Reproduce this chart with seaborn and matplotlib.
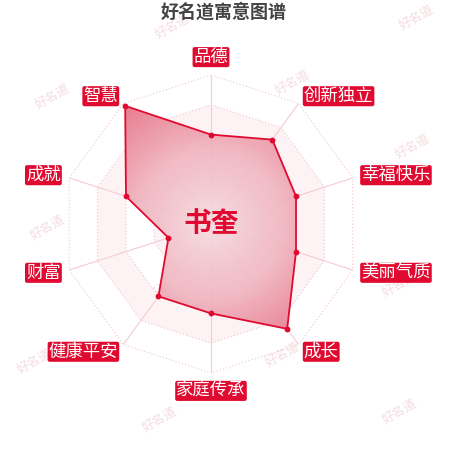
import numpy as np
import matplotlib
matplotlib.use('Agg')
import matplotlib.pyplot as plt
import seaborn as sns
from matplotlib.colors import LinearSegmentedColormap
from matplotlib.image import AxesImage

# Data
categories = ['品德', '创新独立', '幸福快乐', '美丽气质', '成长',
              '家庭传承', '健康平安', '财富', '成就', '智慧']
values = [60, 70, 60, 60, 87, 60, 60, 30, 60, 98]
name = '书奎'
title = '好名道寓意图谱'
watermark = '好名道'
max_value = 100
levels = [20, 40, 60, 80, 100]

red = '#e00a30'

sns.set_style('white')
plt.rcParams['font.family'] = ['Noto Sans CJK SC', 'DejaVu Sans']

fig = plt.figure(figsize=(4.5, 4.5), dpi=100)

# watermarks in the background (pixel positions from top-left)
wm_pos = [(173, 27), (417, 18), (53, 97), (293, 83), (413, 147), (170, 155),
          (48, 228), (300, 210), (155, 293), (400, 285), (35, 362),
          (283, 355), (160, 420), (400, 412)]
for px, py in wm_pos:
    fig.text(px / 450, 1 - py / 450, watermark, fontsize=9, color='#f5dce0',
             rotation=30, ha='center', va='center', style='italic', zorder=-1)

cx, cy, R = 211 / 450, 1 - 224 / 450, 149 / 450
ax = fig.add_axes([cx - R, cy - R, 2 * R, 2 * R], polar=True)
ax.set_theta_offset(np.pi / 2)
ax.set_theta_direction(-1)
ax.set_ylim(0, max_value)
ax.grid(False)
ax.spines['polar'].set_visible(False)
ax.set_xticks([])
ax.set_yticks([])
ax.patch.set_alpha(0)

n = len(categories)
angles = np.arange(n) * 2 * np.pi / n
ring_angles = np.append(angles, angles[0])

# split areas (alternating bands)
for lo, hi in [(20, 40), (60, 80)]:
    th = np.concatenate([ring_angles, ring_angles[::-1]])
    rr = np.concatenate([[hi] * (n + 1), [lo] * (n + 1)])
    ax.fill(th, rr, color='#fdf3f5', lw=0, zorder=1)

# grid rings and spokes
for lv in levels:
    ax.plot(ring_angles, [lv] * (n + 1), color='#efc4cc', lw=0.8,
            ls=(0, (1, 2)), zorder=1)
for a in angles:
    ax.plot([a, a], [0, max_value], color='#f2cbd3', lw=0.8, zorder=1)

# data polygon with radial gradient
closed_vals = values + values[:1]
poly = ax.fill(ring_angles, closed_vals, color='none', lw=0, zorder=2)[0]
yy, xx = np.mgrid[-1:1:300j, -1:1:300j]
dist = np.sqrt(xx ** 2 + yy ** 2)
cmap = LinearSegmentedColormap.from_list(
    'grad', ['#f7dbe1', '#f0b4bf', '#e66e83'])
im = AxesImage(ax, cmap=cmap, extent=(0, 1, 0, 1), transform=ax.transAxes,
               interpolation='bilinear', alpha=0.92)
im.set_data(np.clip(dist, 0, 1))
im.set_clim(0, 1)
im.set_zorder(2)
ax.add_image(im)
im.set_clip_path(poly)

ax.plot(ring_angles, closed_vals, color=red, lw=1.3, zorder=3)
ax.scatter(angles, values, s=10, color=red, zorder=4)

# category labels
for a, lab in zip(angles, categories):
    deg = np.degrees(a) % 360
    if deg < 1 or abs(deg - 180) < 1:
        ha, r = 'center', 112
    elif deg < 180:
        ha, r = 'left', 106
    else:
        ha, r = 'right', 106
    ax.text(a, r, lab, ha=ha, va='center', fontsize=12.5, color='white',
            zorder=5, clip_on=False,
            bbox=dict(boxstyle='round,pad=0.06,rounding_size=0.12',
                      fc=red, ec='none'))

# name in the center
ax.text(0, 0, name, ha='center', va='center', fontsize=20,
        fontweight='bold', color=red, zorder=6)

fig.text(0.498, 1 - 12 / 450, title, ha='center', va='center',
         fontsize=13, fontweight='bold', color='#444444')

fig.savefig('out.png', dpi=100)
